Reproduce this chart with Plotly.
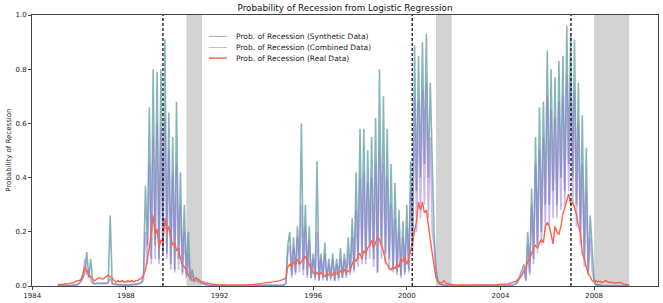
import pandas as pd
import plotly.graph_objects as go

# Monthly probabilities, Feb 1985 .. Jul 2009 (one row per year)
synthetic = [
    0.002,0.001,0.002,0.001,0.002,0.001,0.002,0.002,0.003,0.003,0.005,            # 1985 (Feb-Dec)
    0.01,0.02,0.03,0.05,0.125,0.03,0.1,0.015,0.008,0.01,0.01,0.012,               # 1986
    0.01,0.012,0.01,0.015,0.26,0.01,0.008,0.006,0.005,0.005,0.004,0.005,          # 1987
    0.004,0.005,0.004,0.006,0.005,0.007,0.008,0.01,0.015,0.04,0.37,0.15,          # 1988
    0.66,0.1,0.8,0.15,0.79,0.1,0.8,0.12,0.91,0.12,0.64,0.08,                      # 1989
    0.55,0.06,0.68,0.1,0.42,0.05,0.3,0.04,0.2,0.03,0.06,0.02,                     # 1990
    0.03,0.02,0.02,0.01,0.008,0.005,0.003,0.002,0.002,0.002,0.002,0.001,          # 1991
    0.001,0.001,0.001,0.001,0.001,0.001,0.001,0.001,0.001,0.001,0.001,0.001,      # 1992
    0.001,0.001,0.001,0.001,0.001,0.001,0.001,0.001,0.001,0.001,0.001,0.001,      # 1993
    0.001,0.001,0.001,0.001,0.002,0.002,0.002,0.003,0.003,0.005,0.01,0.15,        # 1994
    0.2,0.04,0.18,0.05,0.22,0.08,0.6,0.06,0.3,0.04,0.22,0.03,                     # 1995
    0.12,0.03,0.46,0.02,0.12,0.03,0.16,0.02,0.1,0.03,0.12,0.02,                   # 1996
    0.1,0.03,0.14,0.03,0.12,0.04,0.18,0.05,0.25,0.06,0.42,0.1,                    # 1997
    0.58,0.12,0.58,0.1,0.5,0.15,0.55,0.1,0.62,0.05,0.8,0.15,                      # 1998
    0.7,0.12,0.58,0.1,0.45,0.06,0.38,0.05,0.28,0.04,0.24,0.05,                    # 1999
    0.3,0.06,0.46,0.15,0.89,0.35,0.85,0.4,0.9,0.45,0.93,0.4,                      # 2000
    0.75,0.45,0.2,0.06,0.02,0.008,0.005,0.003,0.002,0.002,0.001,0.001,            # 2001
    0.001,0.001,0.001,0.001,0.001,0.001,0.001,0.001,0.001,0.001,0.001,0.001,      # 2002
    0.001,0.001,0.001,0.001,0.001,0.001,0.001,0.001,0.001,0.001,0.001,0.001,      # 2003
    0.001,0.001,0.001,0.001,0.001,0.002,0.003,0.006,0.01,0.02,0.04,0.06,          # 2004
    0.08,0.02,0.2,0.05,0.36,0.1,0.55,0.15,0.66,0.2,0.68,0.3,                      # 2005
    0.87,0.3,0.8,0.35,0.77,0.3,0.83,0.4,0.85,0.35,0.96,0.45,                      # 2006
    0.93,0.4,0.91,0.3,0.75,0.2,0.63,0.1,0.51,0.05,0.26,0.14,                      # 2007
    0.02,0.005,0.003,0.003,0.002,0.002,0.002,0.002,0.002,0.002,0.001,0.001,       # 2008
    0.001,0.001,0.001,0.001,0.001,0.001,0.001,                                    # 2009 (Jan-Jul)
]

combined = [
    0.002,0.001,0.002,0.001,0.002,0.001,0.002,0.002,0.002,0.003,0.004,            # 1985
    0.01,0.015,0.03,0.1,0.04,0.06,0.02,0.01,0.008,0.01,0.008,0.01,                # 1986
    0.008,0.01,0.008,0.01,0.03,0.008,0.006,0.005,0.004,0.004,0.004,0.004,         # 1987
    0.003,0.004,0.003,0.005,0.004,0.005,0.006,0.008,0.012,0.02,0.2,0.08,          # 1988
    0.45,0.08,0.55,0.1,0.6,0.08,0.58,0.12,0.62,0.1,0.5,0.06,                      # 1989
    0.42,0.05,0.45,0.06,0.3,0.04,0.2,0.03,0.12,0.02,0.04,0.015,                   # 1990
    0.02,0.015,0.012,0.008,0.005,0.004,0.003,0.002,0.002,0.002,0.001,0.001,       # 1991
    0.001,0.001,0.001,0.001,0.001,0.001,0.001,0.001,0.001,0.001,0.001,0.001,      # 1992
    0.001,0.001,0.001,0.001,0.001,0.001,0.001,0.001,0.001,0.001,0.001,0.001,      # 1993
    0.001,0.001,0.001,0.001,0.001,0.002,0.002,0.002,0.003,0.004,0.008,0.12,       # 1994
    0.15,0.03,0.14,0.04,0.18,0.05,0.3,0.04,0.22,0.03,0.17,0.03,                   # 1995
    0.1,0.02,0.2,0.02,0.1,0.02,0.12,0.02,0.08,0.02,0.1,0.02,                      # 1996
    0.08,0.02,0.1,0.03,0.1,0.03,0.12,0.04,0.18,0.05,0.28,0.07,                    # 1997
    0.4,0.08,0.42,0.08,0.38,0.1,0.4,0.07,0.45,0.05,0.5,0.1,                       # 1998
    0.45,0.08,0.4,0.06,0.3,0.05,0.25,0.04,0.2,0.03,0.18,0.04,                     # 1999
    0.22,0.05,0.35,0.12,0.7,0.2,0.68,0.25,0.72,0.3,0.75,0.25,                     # 2000
    0.55,0.2,0.15,0.04,0.015,0.008,0.005,0.003,0.002,0.002,0.001,0.001,           # 2001
    0.001,0.001,0.001,0.001,0.001,0.001,0.001,0.001,0.001,0.001,0.001,0.001,      # 2002
    0.001,0.001,0.001,0.001,0.001,0.001,0.001,0.001,0.001,0.001,0.001,0.001,      # 2003
    0.001,0.001,0.001,0.001,0.001,0.002,0.003,0.005,0.008,0.015,0.03,0.04,        # 2004
    0.06,0.02,0.15,0.04,0.3,0.08,0.45,0.12,0.5,0.15,0.55,0.2,                     # 2005
    0.7,0.22,0.65,0.25,0.62,0.25,0.68,0.28,0.7,0.3,0.78,0.35,                     # 2006
    0.75,0.3,0.72,0.22,0.6,0.15,0.45,0.07,0.35,0.04,0.18,0.06,                    # 2007
    0.015,0.005,0.003,0.003,0.002,0.002,0.002,0.002,0.002,0.002,0.001,0.001,      # 2008
    0.001,0.001,0.001,0.001,0.001,0.001,0.001,                                    # 2009
]

real = [
    0.006,0.005,0.007,0.006,0.008,0.007,0.009,0.01,0.012,0.015,0.02,              # 1985
    0.02,0.025,0.045,0.07,0.055,0.04,0.035,0.025,0.02,0.025,0.03,0.03,            # 1986
    0.025,0.03,0.035,0.04,0.035,0.03,0.02,0.015,0.02,0.015,0.02,0.015,            # 1987
    0.015,0.02,0.015,0.02,0.015,0.02,0.02,0.025,0.03,0.04,0.06,0.1,               # 1988
    0.14,0.2,0.26,0.19,0.21,0.14,0.17,0.16,0.25,0.2,0.22,0.18,                    # 1989
    0.15,0.16,0.13,0.14,0.1,0.08,0.07,0.06,0.04,0.03,0.02,0.025,                  # 1990
    0.03,0.025,0.02,0.015,0.015,0.01,0.01,0.008,0.008,0.006,0.006,0.005,          # 1991
    0.005,0.004,0.005,0.004,0.004,0.003,0.004,0.003,0.003,0.004,0.003,0.003,      # 1992
    0.003,0.004,0.004,0.005,0.005,0.006,0.006,0.007,0.008,0.008,0.009,0.01,       # 1993
    0.01,0.012,0.012,0.014,0.015,0.016,0.018,0.02,0.022,0.025,0.03,0.07,          # 1994
    0.08,0.07,0.09,0.08,0.1,0.08,0.09,0.1,0.11,0.09,0.08,0.06,                    # 1995
    0.05,0.04,0.05,0.04,0.05,0.04,0.035,0.045,0.04,0.05,0.04,0.05,                # 1996
    0.045,0.05,0.055,0.05,0.06,0.05,0.055,0.06,0.08,0.1,0.09,0.11,                # 1997
    0.12,0.1,0.13,0.12,0.14,0.15,0.17,0.14,0.16,0.18,0.17,0.15,                   # 1998
    0.13,0.09,0.075,0.065,0.06,0.07,0.065,0.08,0.07,0.1,0.09,0.11,                # 1999
    0.08,0.1,0.13,0.17,0.2,0.24,0.31,0.28,0.31,0.27,0.28,0.22,                    # 2000
    0.17,0.12,0.07,0.03,0.015,0.01,0.012,0.02,0.01,0.008,0.006,0.005,             # 2001
    0.004,0.004,0.003,0.003,0.003,0.003,0.003,0.003,0.003,0.003,0.003,0.003,      # 2002
    0.003,0.003,0.003,0.003,0.003,0.004,0.004,0.004,0.005,0.005,0.005,0.006,      # 2003
    0.006,0.006,0.007,0.008,0.008,0.01,0.012,0.015,0.018,0.025,0.03,0.04,         # 2004
    0.055,0.07,0.09,0.1,0.12,0.14,0.15,0.14,0.16,0.17,0.16,0.22,                  # 2005
    0.235,0.22,0.19,0.155,0.22,0.2,0.19,0.22,0.265,0.29,0.31,0.34,                # 2006
    0.3,0.31,0.29,0.265,0.22,0.2,0.12,0.1,0.07,0.045,0.035,0.02,                  # 2007
    0.015,0.02,0.015,0.018,0.012,0.015,0.02,0.015,0.012,0.015,0.01,0.012,         # 2008
    0.012,0.01,0.012,0.008,0.006,0.005,0.004,                                     # 2009
]

series_names = ["Prob. of Recession (Synthetic Data)",
                "Prob. of Recession (Combined Data)",
                "Prob. of Recession (Real Data)"]
series_colors = ["rgba(95,158,160,0.75)", "rgba(147,112,219,0.5)", "#ff6347"]
series_widths = [1.6, 1.6, 1.4]
legend_widths = [1.0, 1.0, 1.4]

recession_starts = ["1990-08-01", "2001-04-01", "2008-01-01"]
recession_ends = ["1991-04-01", "2001-12-01", "2009-07-01"]
signal_dates = ["1989-08-01", "2000-03-25", "2007-01-05"]

tick_years = [1984, 1988, 1992, 1996, 2000, 2004, 2008]
y_ticks = [0.0, 0.2, 0.4, 0.6, 0.8, 1.0]

dates = pd.date_range("1985-02-01", periods=len(real), freq="MS")

FONT = "DejaVu Sans"
fig = go.Figure()

for vals, name, col, w in zip([synthetic, combined, real], series_names, series_colors, series_widths):
    fig.add_trace(go.Scatter(x=dates, y=vals, mode="lines", name=name,
                             line=dict(color=col, width=w), showlegend=False))

shapes = []
for s, e in zip(recession_starts, recession_ends):
    shapes.append(dict(type="rect", xref="x", yref="paper", x0=s, x1=e, y0=0, y1=1,
                       fillcolor="#d3d3d3", line=dict(width=0), layer="below"))
for d in signal_dates:
    shapes.append(dict(type="line", xref="x", yref="paper", x0=d, x1=d, y0=0, y1=1,
                       line=dict(color="black", width=1.2, dash="3px,2px")))

# manual legend (short line samples like the reference)
annotations = []
leg_y = [0.921, 0.880, 0.841]
for name, col, w, yy in zip(series_names, series_colors, legend_widths, leg_y):
    shapes.append(dict(type="line", xref="paper", yref="paper", x0=0.2825, x1=0.3115,
                       y0=yy, y1=yy, line=dict(color=col, width=w)))
    annotations.append(dict(xref="paper", yref="paper", x=0.3225, y=yy, text=name,
                            showarrow=False, xanchor="left", yanchor="middle",
                            font=dict(family=FONT, size=7.5, color="#222")))

# y-axis title placed like the reference
annotations.append(dict(xref="paper", yref="paper", x=-0.038, y=0.5, xanchor="center",
                        yanchor="middle", text="Probability of Recession", textangle=-90,
                        showarrow=False, font=dict(family=FONT, size=7, color="#222")))

fig.update_layout(
    width=663, height=303,
    margin=dict(l=32, r=5, t=15, b=17),
    paper_bgcolor="white", plot_bgcolor="white",
    title=dict(text="Probability of Recession from Logistic Regression",
               x=0.5, xref="paper", y=1 - 7.5 / 303, yref="container", yanchor="middle",
               font=dict(family=FONT, size=8.8, color="#111"), automargin=False),
    shapes=shapes, annotations=annotations,
    xaxis=dict(type="date", range=["1983-12-28", "2010-09-24"], automargin=False,
               tickvals=[f"{y}-01-01" for y in tick_years], ticktext=[str(y) for y in tick_years],
               showgrid=False, zeroline=False, showline=True, linecolor="#444", linewidth=1,
               mirror=True, ticks="outside", ticklen=3, tickcolor="#444",
               tickfont=dict(family=FONT, size=7, color="#222")),
    yaxis=dict(range=[0, 1], tickvals=y_ticks, ticktext=[f"{v:.1f}" for v in y_ticks],
               automargin=False,
               showgrid=False, zeroline=False, showline=True, linecolor="#444", linewidth=1,
               mirror=True, ticks="outside", ticklen=3, tickcolor="#444",
               tickfont=dict(family=FONT, size=7, color="#222")),
)

fig.write_html("out.html", config={"displayModeBar": False},
               post_script="document.body.style.margin='0';document.body.style.overflow='hidden';")
